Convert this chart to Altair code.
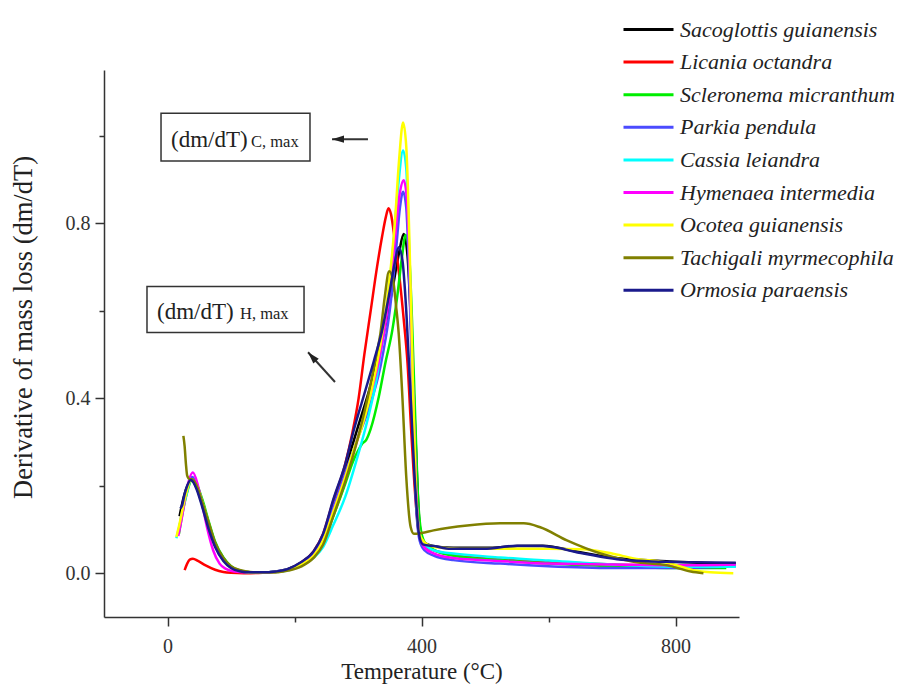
import altair as alt
import pandas as pd

FONT = "Liberation Serif"

species = [
    "Sacoglottis guianensis", "Licania octandra", "Scleronema micranthum",
    "Parkia pendula", "Cassia leiandra", "Hymenaea intermedia",
    "Ocotea guianensis", "Tachigali myrmecophila", "Ormosia paraensis",
]
colors = ["#000000", "#ff0000", "#00ee00", "#4b4bff", "#00ffff",
          "#ff00ff", "#ffff00", "#808000", "#1a1a8c"]

# (temperature °C, dm/dT)
sacoglottis = [(19,0.13),(24,0.165),(30,0.195),(38,0.212),(46,0.195),(55,0.155),(65,0.105),(75,0.063),(88,0.03),(100,0.013),
               (115,0.005),(130,0.002),(150,0.002),(170,0.004),(190,0.01),(210,0.024),(230,0.048),(245,0.085),(261,0.155),(280,0.24),
               (300,0.335),(320,0.43),(340,0.545),(355,0.655),(365,0.735),(372,0.775),(378,0.725),(384,0.55),(390,0.33),(396,0.13),
               (402,0.072),(420,0.062),(450,0.058),(500,0.058),(550,0.062),(590,0.063),(650,0.048),(700,0.036),(790,0.027),(895,0.022)]
licania = [(27,0.007),(31,0.022),(35,0.031),(40,0.033),(48,0.028),(60,0.018),(75,0.008),(88,0.003),(100,0.001),(120,0.0),
           (150,0.001),(170,0.003),(190,0.009),(210,0.024),(230,0.05),(245,0.09),(261,0.165),(280,0.25),(291,0.32),(301,0.4),
           (310,0.5),(320,0.6),(330,0.7),(338,0.77),(344,0.815),(348,0.834),(352,0.82),(358,0.76),(365,0.68),(372,0.58),
           (378,0.48),(384,0.32),(390,0.18),(396,0.09),(405,0.062),(420,0.052),(450,0.042),(520,0.032),(600,0.026),(700,0.02),
           (800,0.016),(880,0.015)]
scleronema = [(18,0.09),(24,0.14),(30,0.18),(39,0.215),(47,0.2),(55,0.168),(65,0.118),(75,0.072),(88,0.036),(100,0.016),
              (115,0.006),(130,0.002),(150,0.002),(170,0.003),(190,0.008),(210,0.02),(230,0.04),(245,0.07),(261,0.13),(280,0.205),
              (292,0.255),(300,0.28),(306,0.295),(313,0.305),(320,0.33),(333,0.405),(343,0.48),(354,0.555),(362,0.635),(369,0.72),
              (375,0.773),(380,0.74),(385,0.58),(390,0.36),(395,0.16),(401,0.085),(410,0.062),(450,0.04),(524,0.03),(600,0.022),
              (700,0.016),(800,0.012),(880,0.012)]
parkia = [(17,0.09),(23,0.14),(30,0.185),(39,0.22),(47,0.2),(55,0.16),(65,0.108),(75,0.065),(88,0.031),(100,0.013),
          (115,0.005),(130,0.002),(150,0.002),(170,0.004),(190,0.009),(210,0.022),(230,0.045),(245,0.08),(261,0.15),(280,0.23),
          (300,0.31),(318,0.38),(335,0.47),(350,0.6),(360,0.74),(366,0.835),(371,0.872),(376,0.835),(381,0.66),(386,0.4),
          (391,0.17),(397,0.075),(405,0.052),(420,0.04),(450,0.03),(524,0.022),(600,0.016),(700,0.012),(800,0.012),(895,0.016)]
cassia = [(14,0.08),(20,0.115),(28,0.17),(38,0.215),(46,0.2),(55,0.162),(65,0.11),(75,0.066),(88,0.031),(100,0.013),
          (115,0.005),(130,0.002),(150,0.002),(170,0.003),(190,0.007),(210,0.018),(230,0.035),(245,0.06),(261,0.11),(280,0.175),
          (300,0.27),(315,0.35),(330,0.45),(345,0.6),(355,0.74),(363,0.88),(371,0.966),(376,0.925),(381,0.72),(386,0.45),
          (391,0.2),(397,0.09),(405,0.066),(420,0.052),(450,0.045),(524,0.036),(600,0.029),(700,0.02),(800,0.015),(895,0.015)]
hymenaea = [(17,0.085),(23,0.13),(30,0.19),(40,0.23),(48,0.2),(55,0.155),(63,0.1),(72,0.052),(82,0.022),(92,0.01),
            (105,0.004),(130,0.002),(150,0.002),(170,0.003),(190,0.008),(210,0.02),(230,0.04),(245,0.075),(261,0.14),(280,0.22),
            (300,0.31),(318,0.4),(335,0.5),(348,0.62),(358,0.76),(366,0.87),(372,0.898),(377,0.855),(382,0.66),(387,0.4),
            (392,0.18),(398,0.08),(405,0.058),(420,0.045),(450,0.035),(524,0.028),(600,0.022),(700,0.02),(800,0.018),(895,0.02)]
ocotea = [(14,0.083),(20,0.12),(28,0.175),(38,0.215),(45,0.202),(55,0.162),(65,0.112),(75,0.066),(88,0.031),(100,0.013),
          (115,0.005),(130,0.002),(150,0.002),(170,0.003),(190,0.008),(210,0.02),(230,0.04),(245,0.075),(261,0.14),(280,0.22),
          (295,0.29),(304,0.325),(320,0.41),(335,0.52),(348,0.65),(358,0.8),(365,0.95),(371,1.03),(376,0.975),(381,0.76),
          (386,0.46),(391,0.2),(397,0.09),(405,0.07),(420,0.06),(460,0.056),(524,0.056),(600,0.056),(655,0.055),(700,0.045),
          (734,0.034),(787,0.024),(828,0.007),(855,0.002),(891,0.0)]
tachigali = [(25,0.314),(27,0.29),(29,0.25),(31,0.223),(35,0.215),(39,0.215),(46,0.2),(55,0.162),(65,0.115),(75,0.07),
             (88,0.035),(100,0.016),(115,0.007),(130,0.003),(150,0.002),(170,0.002),(190,0.006),(210,0.015),(230,0.035),(245,0.065),
             (261,0.13),(280,0.21),(300,0.31),(315,0.4),(330,0.507),(335,0.545),(342,0.63),(349,0.69),(355,0.672),(360,0.61),
             (364,0.55),(370,0.4),(376,0.22),(383,0.105),(388,0.09),(400,0.092),(419,0.098),(472,0.109),(524,0.114),(561,0.114),
             (587,0.105),(629,0.075),(682,0.045),(734,0.026),(787,0.018),(824,0.004),(844,0.0)]
ormosia = [(20,0.148),(23,0.155),(26,0.175),(31,0.2),(37,0.213),(45,0.195),(55,0.15),(65,0.1),(75,0.06),(88,0.028),
           (100,0.012),(115,0.004),(130,0.002),(150,0.002),(170,0.004),(190,0.01),(210,0.025),(230,0.05),(245,0.09),(261,0.168),
           (280,0.25),(293,0.325),(309,0.405),(325,0.485),(338,0.555),(350,0.645),(358,0.71),(364,0.745),(370,0.715),(376,0.6),
           (383,0.4),(390,0.2),(396,0.09),(402,0.066),(420,0.062),(446,0.056),(498,0.056),(551,0.063),(592,0.062),(655,0.045),
           (708,0.032),(787,0.026),(895,0.024)]

series = [sacoglottis, licania, scleronema, parkia, cassia, hymenaea, ocotea, tachigali, ormosia]

# annotation boxes, labels and arrows (data coordinates)
box_left = [-10.2, -32.3]
box_right = [224.4, 215.0]
box_top = [1.051, 0.655]
box_bottom = [0.942, 0.550]
label_text = ["(dm/dT)", "C, max", "(dm/dT)", "H, max"]
label_T = [5.5, 131.5, -16.5, 114.2]
label_v = [0.973, 0.973, 0.580, 0.580]
label_size = [23, 16.5, 23, 16.5]
arrow_tail_T = [315.7, 263.8]
arrow_tail_v = [0.992, 0.437]
arrow_tip_T = [259.1, 221.3]
arrow_tip_v = [0.992, 0.505]
arrow_angle = [270, 318]

rows = []
for name, pts in zip(species, series):
    for t, v in pts:
        rows.append({"species": name, "T": t, "v": v})
df = pd.DataFrame(rows)

boxes = pd.DataFrame({"T": box_left, "T2": box_right, "v": box_top, "v2": box_bottom})
labels = pd.DataFrame({"T": label_T, "v": label_v, "label": label_text, "fs": label_size})
arrows = pd.DataFrame({"T": arrow_tail_T, "v": arrow_tail_v, "T2": arrow_tip_T, "v2": arrow_tip_v})
heads = pd.DataFrame({"T": arrow_tip_T, "v": arrow_tip_v, "ang": arrow_angle})

axis_common = dict(
    domainColor="#333333", domainWidth=1.5, tickColor="#333333", tickWidth=1.5,
    labelFont=FONT, labelFontSize=20, labelColor="#333333",
    titleFont=FONT, titleFontWeight="normal", titleColor="#222222", grid=False,
)

x_enc = alt.X(
    "T:Q", title="Temperature (°C)",
    scale=alt.Scale(domain=[-100, 900], nice=False, zero=False),
    axis=alt.Axis(
        values=[0, 200, 400, 600, 800],
        labelExpr="datum.value % 400 == 0 ? datum.label : ''",
        tickSize={"condition": {"test": "datum.value % 400 == 0", "value": 9}, "value": 5},
        labelPadding=10, titleFontSize=23, titleBaseline="alphabetic", titleY=61,
        **axis_common,
    ),
)
y_enc = alt.Y(
    "v:Q", title="Derivative of mass loss (dm/dT)",
    scale=alt.Scale(domain=[-0.1, 1.15], nice=False, zero=False),
    axis=alt.Axis(
        values=[0, 0.2, 0.4, 0.6, 0.8, 1.0],
        labelExpr="round(datum.value*10) % 4 == 0 ? format(datum.value, '.1f') : ''",
        tickSize={"condition": {"test": "round(datum.value*10) % 4 == 0", "value": 9}, "value": 5},
        labelPadding=5, titleFontSize=26.5, titleAngle=270, titleBaseline="alphabetic",
        titleX=-73, titleY=257, titleAlign="center",
        **axis_common,
    ),
)

lines = alt.Chart(df).mark_line(strokeWidth=2.5, interpolate="monotone").encode(
    x=x_enc, y=y_enc,
    color=alt.Color(
        "species:N", sort=species,
        scale=alt.Scale(domain=species, range=colors),
        legend=alt.Legend(
            orient="none", legendX=518, legendY=-52, title=None,
            symbolType="M-1,0H4", symbolSize=400, symbolStrokeWidth=3,
            labelFont=FONT, labelFontStyle="italic", labelFontSize=22, labelColor="#222222",
            labelOffset=35, rowPadding=9.6, padding=0, labelLimit=400,
        ),
    ),
)

box_layer = alt.Chart(boxes).mark_rect(fill="white", stroke="#333333", strokeWidth=1.5).encode(
    x=x_enc, x2="T2:Q", y=y_enc, y2="v2:Q"
)
text_layer = alt.Chart(labels).mark_text(
    align="left", baseline="alphabetic", font=FONT, color="#222222"
).encode(x=x_enc, y=y_enc, text="label:N", size=alt.Size("fs:Q", scale=None))
rule_layer = alt.Chart(arrows).mark_rule(color="#333333", strokeWidth=2).encode(
    x=x_enc, x2="T2:Q", y=y_enc, y2="v2:Q"
)
head_layer = alt.Chart(heads).mark_point(
    shape="M0,0L0.6,2L-0.6,2Z", filled=True, color="#222222", opacity=1, size=144
).encode(x=x_enc, y=y_enc, angle=alt.Angle("ang:Q", scale=None))

chart = alt.layer(lines, box_layer, text_layer, rule_layer, head_layer).properties(
    width=635, height=547,
    padding={"left": 96, "top": 62, "right": 160, "bottom": 69},
    autosize=alt.AutoSizeParams(type="none"),
).configure_view(stroke=None)

chart.save("out.html", embed_options={"renderer": "svg", "actions": False})
